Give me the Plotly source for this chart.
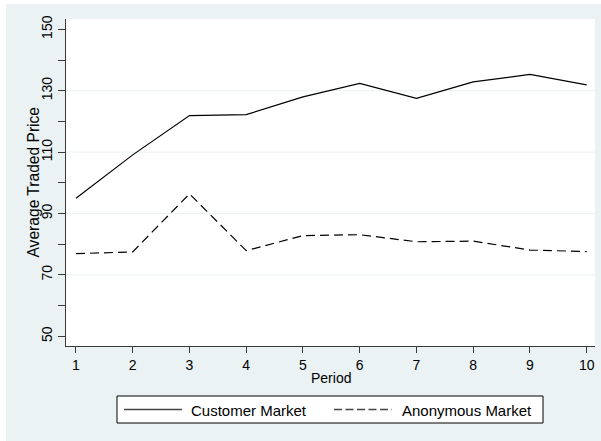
import plotly.graph_objects as go

# Average traded price by period for the two market designs
periods = [1, 2, 3, 4, 5, 6, 7, 8, 9, 10]
customer_market = [95.0, 109.1, 121.9, 122.2, 128.0, 132.4, 127.5, 132.9, 135.3, 131.9]
anonymous_market = [76.9, 77.5, 96.4, 77.9, 82.8, 83.1, 80.8, 81.0, 78.1, 77.6]

series_names = ["Customer Market", "Anonymous Market"]

# y axis: ticks every 10, labels every 20, grid at the inner labels
y_tick_values = [50, 60, 70, 80, 90, 100, 110, 120, 130, 140, 150]
y_tick_labels = ["50", "", "70", "", "90", "", "110", "", "130", "", "150"]
y_grid_values = [70, 90, 110, 130]

x_title = "Period"
y_title = "Average Traded Price"

W, H = 601, 441
L, R, T, B = 66, 595, 19, 346          # plot area in pixels
BG = "#EAF2F3"
AXIS_COLOR = "#3a3a3a"
FONT = "Arial, Liberation Sans, sans-serif"


def px(x):
    return (x - L) / (R - L)


def py(y):
    return (B - y) / (B - T)


fig = go.Figure()
fig.add_trace(go.Scatter(
    x=periods, y=customer_market, mode="lines", name=series_names[0],
    line=dict(color="black", width=1.2), showlegend=False,
))
fig.add_trace(go.Scatter(
    x=periods, y=anonymous_market, mode="lines", name=series_names[1],
    line=dict(color="black", width=1.2, dash="9px,5px"), showlegend=False,
))

shapes = []
# light grid lines
for g in y_grid_values:
    shapes.append(dict(type="line", xref="paper", yref="y", x0=0, x1=1, y0=g, y1=g,
                       line=dict(color=BG, width=1), layer="below"))
# thin white border at top and left of the canvas
shapes.append(dict(type="rect", xref="paper", yref="paper", x0=px(-5), x1=px(W + 5),
                   y0=py(4), y1=py(-5), fillcolor="white", line=dict(width=0)))
shapes.append(dict(type="rect", xref="paper", yref="paper", x0=px(-5), x1=px(6),
                   y0=py(H + 5), y1=py(-5), fillcolor="white", line=dict(width=0)))
# legend box
shapes.append(dict(type="rect", xref="paper", yref="paper", x0=px(117), x1=px(543),
                   y0=py(423), y1=py(396), fillcolor="white",
                   line=dict(color="black", width=1)))
shapes.append(dict(type="line", xref="paper", yref="paper", x0=px(124), x1=px(182),
                   y0=py(409.5), y1=py(409.5), line=dict(color="#444", width=1.3)))
shapes.append(dict(type="line", xref="paper", yref="paper", x0=px(334), x1=px(392),
                   y0=py(409.5), y1=py(409.5),
                   line=dict(color="#444", width=1.3, dash="8px,3.5px")))

annotations = [
    dict(text=series_names[0], xref="paper", yref="paper", x=px(189), y=py(410),
         xanchor="left", yanchor="middle", showarrow=False,
         font=dict(family=FONT, size=15, color="black")),
    dict(text=series_names[1], xref="paper", yref="paper", x=px(400), y=py(410),
         xanchor="left", yanchor="middle", showarrow=False,
         font=dict(family=FONT, size=15, color="black")),
    dict(text=x_title, xref="paper", yref="paper", x=0.5, y=py(378),
         xanchor="center", yanchor="middle", showarrow=False,
         font=dict(family=FONT, size=14, color="black")),
    dict(text=y_title, xref="paper", yref="paper", x=px(33), y=0.5, textangle=-90,
         xanchor="center", yanchor="middle", showarrow=False,
         font=dict(family=FONT, size=15.6, color="black")),
]

fig.update_layout(
    width=W, height=H,
    margin=dict(l=L, r=W - R, t=T, b=H - B),
    paper_bgcolor=BG, plot_bgcolor="white",
    font=dict(family=FONT, color="black"),
    showlegend=False,
    shapes=shapes, annotations=annotations,
    xaxis=dict(
        range=[0.824, 10.146], tickmode="array", tickvals=periods,
        ticks="outside", ticklen=6, tickwidth=1, tickcolor=AXIS_COLOR,
        showline=True, linecolor=AXIS_COLOR, linewidth=1,
        showgrid=False, zeroline=False,
        tickfont=dict(family=FONT, size=14, color="black"),
    ),
    yaxis=dict(
        range=[46.84, 153.36], tickmode="array", tickvals=y_tick_values,
        ticktext=y_tick_labels, tickangle=-90,
        ticks="outside", ticklen=7, tickwidth=1, tickcolor=AXIS_COLOR,
        showline=True, linecolor=AXIS_COLOR, linewidth=1,
        showgrid=False, zeroline=False,
        tickfont=dict(family=FONT, size=14, color="black"),
    ),
)

fig.write_html("out.html")
